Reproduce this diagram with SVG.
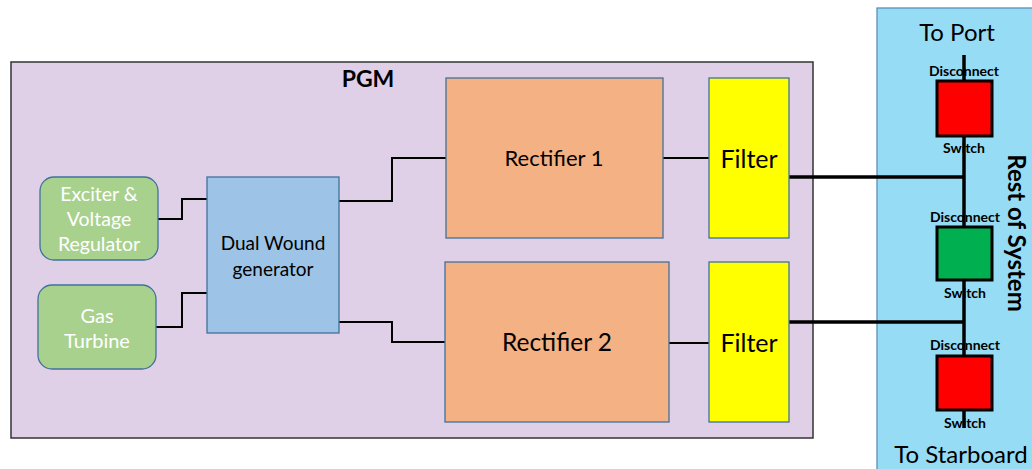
<svg xmlns="http://www.w3.org/2000/svg" width="1032" height="469" viewBox="0 0 1032 469">
  <style>
    text { font-family: Lato, "Open Sans", "Liberation Sans", sans-serif; text-anchor: middle; }
    .blk { fill: #000; }
    .wht { fill: #ffffff; }
    .box { stroke: #41719c; stroke-width: 1.3; }
    .thin { fill: none; stroke: #000; stroke-width: 2; }
    .bus { fill: none; stroke: #000; stroke-width: 3.5; }
    .sw { stroke: #000; stroke-width: 3; }
    .lbl { font-size: 14px; font-weight: bold; }
    .side { font-size: 24px; }
  </style>

  <!-- PGM enclosure -->
  <g id="pgm">
    <rect x="11" y="62" width="802" height="376" fill="#dfd0e8" stroke="#333" stroke-width="1.5"/>
    <text x="368" y="87" class="blk" style="font-size:23px;font-weight:bold">PGM</text>
  </g>

  <!-- Rest of system panel -->
  <g id="rest-of-system">
    <rect x="877" y="8" width="160" height="470" fill="#97dcf5" stroke="#5b8fb9" stroke-width="1.3"/>
    <text x="957" y="41" class="blk side">To Port</text>
    <text x="961" y="463" class="blk side">To Starboard</text>
    <text transform="translate(1008,233) rotate(90)" class="blk" style="font-size:24px;font-weight:bold">Rest of System</text>
  </g>

  <!-- Connectors -->
  <g id="connectors">
    <polyline class="thin" points="158,219 182,219 182,199 207,199"/>
    <polyline class="thin" points="156,327 182,327 182,293 207,293"/>
    <polyline class="thin" points="339,201 392,201 392,158 446,158"/>
    <polyline class="thin" points="339,322 392,322 392,342 445,342"/>
    <line class="thin" x1="663" y1="158" x2="709" y2="158"/>
    <line class="thin" x1="669" y1="343" x2="709" y2="343"/>
    <polyline class="bus" points="789,177 964,177"/>
    <polyline class="bus" points="789,322 964,322"/>
    <line class="bus" x1="964" y1="55" x2="964" y2="428"/>
  </g>

  <g id="exciter">
    <rect class="box" x="40" y="177" width="118" height="83" rx="14" fill="#a9d18e"/>
    <text x="99" y="201" class="wht" style="font-size:19.5px">Exciter &amp;</text>
    <text x="99" y="226" class="wht" style="font-size:19.5px">Voltage</text>
    <text x="99" y="251" class="wht" style="font-size:19.5px">Regulator</text>
  </g>

  <g id="gas-turbine">
    <rect class="box" x="38" y="285" width="118" height="84" rx="14" fill="#a9d18e"/>
    <text x="97" y="323" class="wht" style="font-size:20px">Gas</text>
    <text x="97" y="348" class="wht" style="font-size:20px">Turbine</text>
  </g>

  <g id="generator">
    <rect class="box" x="207" y="177" width="132" height="156" fill="#9dc3e6"/>
    <text x="273" y="250" class="blk" style="font-size:19px">Dual Wound</text>
    <text x="273" y="276" class="blk" style="font-size:19px">generator</text>
  </g>

  <g id="rectifier-1">
    <rect class="box" x="446" y="78" width="217" height="160" fill="#f4b183"/>
    <text x="554" y="166" class="blk" style="font-size:22px">Rectifier 1</text>
  </g>

  <g id="rectifier-2">
    <rect class="box" x="445" y="262" width="224" height="160" fill="#f4b183"/>
    <text x="557" y="351" class="blk" style="font-size:24.5px">Rectifier 2</text>
  </g>

  <g id="filter-1">
    <rect class="box" x="709" y="78" width="80" height="160" fill="#ffff00"/>
    <text x="749" y="168" class="blk" style="font-size:25px">Filter</text>
  </g>

  <g id="filter-2">
    <rect class="box" x="709" y="262" width="80" height="160" fill="#ffff00"/>
    <text x="749" y="352" class="blk" style="font-size:25px">Filter</text>
  </g>

  <g id="switch-port">
    <rect class="sw" x="937" y="81" width="55" height="55" fill="#ff0000"/>
    <text x="964" y="76" class="blk lbl">Disconnect</text>
    <text x="964" y="153" class="blk lbl">Switch</text>
  </g>

  <g id="switch-mid">
    <rect class="sw" x="937" y="227" width="55" height="53" fill="#00b050"/>
    <text x="965" y="222" class="blk lbl">Disconnect</text>
    <text x="965" y="298" class="blk lbl">Switch</text>
  </g>

  <g id="switch-starboard">
    <rect class="sw" x="937" y="356" width="55" height="54" fill="#ff0000"/>
    <text x="965" y="350" class="blk lbl">Disconnect</text>
    <text x="965" y="428" class="blk lbl">Switch</text>
  </g>
</svg>
